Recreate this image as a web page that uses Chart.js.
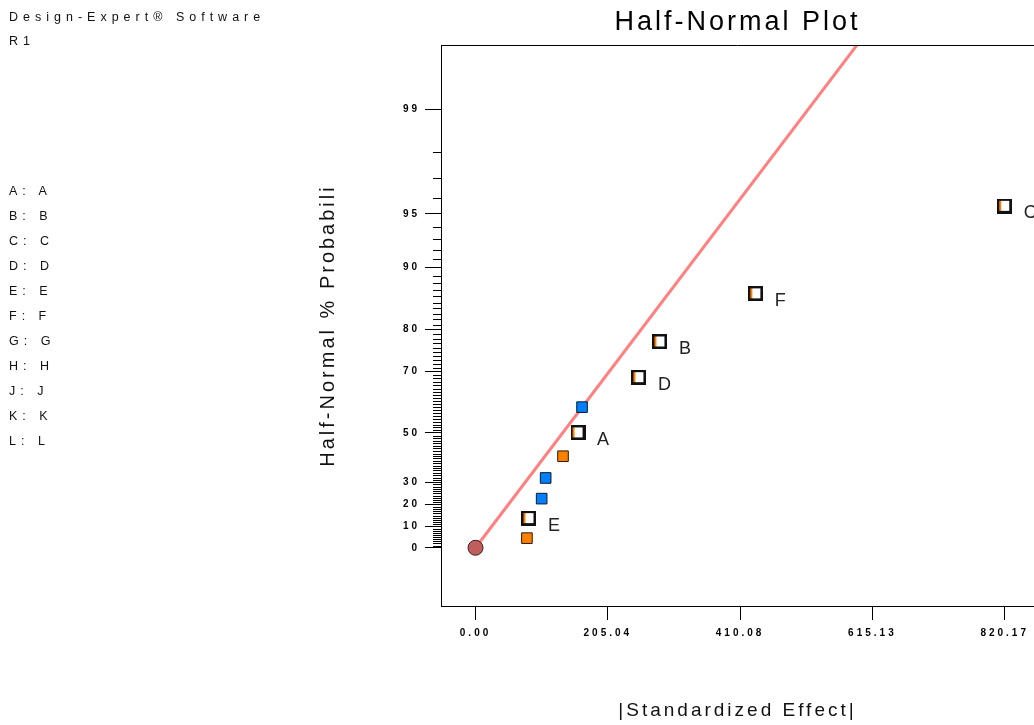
<!DOCTYPE html>
<html>
<head>
<meta charset="utf-8">
<title>Half-Normal Plot</title>
<script src="https://cdn.jsdelivr.net/npm/chart.js@4.4.1/dist/chart.umd.min.js"></script>
<style>
    html, body { margin: 0; padding: 0; background: #fff; overflow: hidden; }
    #wrap { position: relative; width: 1034px; height: 725px; }
    #plot { position: absolute; left: 0; top: 0; }
    .note {
        position: absolute;
        left: 9px;
        font-family: 'Liberation Sans', Arial, sans-serif;
        font-size: 12.5px;
        color: #111;
        letter-spacing: 5px;
        white-space: pre;
    }
</style>
</head>
<body>
<div id="wrap">
    <canvas id="plot" width="1034" height="725"></canvas>
    <div class="note" style="top: 5px; line-height: 24px;">Design-Expert® Software<br>R1</div>
    <div class="note" id="factors" style="top: 179px; line-height: 25px;"></div>
</div>
<script>
// factor codes and their names
var factorCodes = ['A', 'B', 'C', 'D', 'E', 'F', 'G', 'H', 'J', 'K', 'L'];
var factorNames = ['A', 'B', 'C', 'D', 'E', 'F', 'G', 'H', 'J', 'K', 'L'];

// axis ticks
var xTickValues = [0, 205.04, 410.08, 615.13, 820.17];
var yTickPercents = [0, 10, 20, 30, 50, 70, 80, 90, 95, 99];

// effects left out of the model (orange = positive, blue = negative)
var positiveEffects = [79.7, 135.6];
var positivePercents = [4.5, 40.9];
var negativeEffects = [102.5, 108.7, 165.1];
var negativePercents = [22.7, 31.8, 59.1];

// terms picked for the model
var termNames = ['E', 'A', 'D', 'B', 'F', 'C'];
var termEffects = [82.8, 158.9, 253.2, 285.8, 434.5, 820.17];
var termPercents = [13.6, 50.0, 68.2, 77.3, 86.4, 95.5];

// reference line from the origin
var lineEffects = [0, 600];
var linePercents = [0, 99.726];

document.getElementById('factors').innerHTML = factorCodes
    .map((code, i) => code + ': ' + factorNames[i])
    .join('<br>');

// inverse of the standard normal cdf (Acklam)
function probit(p) {
    var a = [-3.969683028665376e+01, 2.209460984245205e+02, -2.759285104469687e+02, 1.383577518672690e+02, -3.066479806614716e+01, 2.506628277459239e+00];
    var b = [-5.447609879822406e+01, 1.615858368580409e+02, -1.556989798598866e+02, 6.680131188771972e+01, -1.328068155288572e+01];
    var c = [-7.784894002430293e-03, -3.223964580411365e-01, -2.400758277161838e+00, -2.549732539343734e+00, 4.374664141464968e+00, 2.938163982698783e+00];
    var d = [7.784695709041462e-03, 3.224671290700398e-01, 2.445134137142996e+00, 3.754408661907416e+00];
    var lo = 0.02425;
    var q, r;
    if (p < lo) {
        q = Math.sqrt(-2 * Math.log(p));
        return (((((c[0] * q + c[1]) * q + c[2]) * q + c[3]) * q + c[4]) * q + c[5]) / ((((d[0] * q + d[1]) * q + d[2]) * q + d[3]) * q + 1);
    }
    if (p > 1 - lo) {
        q = Math.sqrt(-2 * Math.log(1 - p));
        return -(((((c[0] * q + c[1]) * q + c[2]) * q + c[3]) * q + c[4]) * q + c[5]) / ((((d[0] * q + d[1]) * q + d[2]) * q + d[3]) * q + 1);
    }
    q = p - 0.5;
    r = q * q;
    return (((((a[0] * r + a[1]) * r + a[2]) * r + a[3]) * r + a[4]) * r + a[5]) * q / (((((b[0] * r + b[1]) * r + b[2]) * r + b[3]) * r + b[4]) * r + 1);
}

// half-normal % probability -> position on the linear y scale
function halfNormal(pct) {
    return probit(0.5 + pct / 200);
}

function toPoints(xs, ps) {
    return xs.map((x, i) => ({ x: x, y: halfNormal(ps[i]) }));
}

// open square with an orange strip for model terms
function termMarker(fill) {
    var c = document.createElement('canvas');
    c.width = 15;
    c.height = 15;
    var g = c.getContext('2d');
    g.fillStyle = '#111';
    g.fillRect(0, 0, 15, 15);
    g.fillStyle = '#fff';
    g.fillRect(2, 2, 10, 10);
    g.fillStyle = fill;
    g.fillRect(2, 2, 2, 10);
    return c;
}

var fontFamily = "'Liberation Sans', Arial, sans-serif";

// Design-Expert style spaced lettering
var spacedText = {
    id: 'spacedText',
    beforeDraw: (chart) => { chart.ctx.letterSpacing = '3px'; },
    afterDraw: (chart) => { chart.ctx.letterSpacing = '0px'; }
};

// top edge of the frame and the 1% minor ticks on the probability axis
var frameTicks = {
    id: 'frameTicks',
    afterDraw: (chart) => {
        var ctx = chart.ctx;
        var area = chart.chartArea;
        var y = chart.scales.y;
        ctx.save();
        ctx.strokeStyle = '#000';
        ctx.lineWidth = 1;
        ctx.beginPath();
        ctx.moveTo(area.left, Math.round(area.top) + 0.5);
        ctx.lineTo(area.right, Math.round(area.top) + 0.5);
        for (var p = 1; p < 100; p++) {
            if (yTickPercents.indexOf(p) >= 0) continue;
            var py = Math.round(y.getPixelForValue(halfNormal(p))) + 0.5;
            ctx.moveTo(area.left - 8, py);
            ctx.lineTo(area.left, py);
        }
        ctx.stroke();
        ctx.restore();
    }
};

// letters next to the model terms
var termLabels = {
    id: 'termLabels',
    afterDatasetsDraw: (chart) => {
        var ctx = chart.ctx;
        var meta = chart.getDatasetMeta(3);
        ctx.save();
        ctx.font = '18px ' + fontFamily;
        ctx.fillStyle = '#222';
        ctx.textAlign = 'left';
        ctx.textBaseline = 'middle';
        meta.data.forEach((pt, i) => {
            ctx.fillText(termNames[i], pt.x + 19, pt.y + 7);
        });
        ctx.restore();
    }
};

var ctx = document.getElementById('plot').getContext('2d');
var halfNormalChart = new Chart(ctx, {
    type: 'scatter',
    data: {
        datasets: [
            {
                label: 'Line',
                data: toPoints(lineEffects, linePercents),
                showLine: true,
                borderColor: '#ff8080',
                borderWidth: 3,
                pointRadius: 0,
                order: 5
            },
            {
                label: 'Positive',
                data: toPoints(positiveEffects, positivePercents),
                pointStyle: 'rect',
                pointRadius: 7.5,
                backgroundColor: '#ff8000',
                borderColor: '#2a1a0a',
                borderWidth: 1,
                order: 1
            },
            {
                label: 'Negative',
                data: toPoints(negativeEffects, negativePercents),
                pointStyle: 'rect',
                pointRadius: 7.5,
                backgroundColor: '#0080ff',
                borderColor: '#0a1a2a',
                borderWidth: 1,
                order: 1
            },
            {
                label: 'Terms',
                data: toPoints(termEffects, termPercents),
                pointStyle: termMarker('#ff8000'),
                pointRadius: 7.5,
                order: 0
            },
            {
                label: 'Origin',
                data: [{ x: 0, y: halfNormal(0) }],
                pointStyle: 'circle',
                pointRadius: 7.5,
                backgroundColor: '#c05e5e',
                borderColor: '#3a1c1c',
                borderWidth: 1,
                order: 0
            }
        ]
    },
    options: {
        responsive: false,
        animation: false,
        events: [],
        layout: { padding: 0, autoPadding: false },
        plugins: {
            legend: { display: false },
            tooltip: { enabled: false },
            title: {
                display: true,
                text: 'Half-Normal Plot',
                color: '#000',
                fullSize: false,
                font: { family: fontFamily, size: 27, weight: 'normal' },
                padding: { top: 6, bottom: 6.6 }
            }
        },
        scales: {
            x: {
                type: 'linear',
                position: 'bottom',
                min: -53.5,
                max: 865.6,
                bounds: 'data',
                afterBuildTicks: (scale) => {
                    scale.ticks = xTickValues.map((v) => ({ value: v }));
                },
                afterFit: (scale) => {
                    scale.height = 119;
                    scale.paddingLeft = 0;
                    scale.paddingRight = 0;
                },
                grid: { drawOnChartArea: false, tickLength: 14, tickColor: '#000' },
                border: { color: '#000' },
                ticks: {
                    color: '#000',
                    padding: 7,
                    maxRotation: 0,
                    autoSkip: false,
                    font: { family: fontFamily, size: 10, weight: 'bold' },
                    callback: (value) => value.toFixed(2)
                },
                title: {
                    display: true,
                    text: '|Standardized Effect|',
                    color: '#111',
                    font: { family: fontFamily, size: 19 },
                    padding: { top: 0, bottom: 3 }
                }
            },
            y: {
                type: 'linear',
                position: 'left',
                min: -0.342,
                max: 2.952,
                bounds: 'data',
                afterBuildTicks: (scale) => {
                    scale.ticks = yTickPercents.map((p) => ({ value: halfNormal(p) }));
                },
                afterFit: (scale) => { scale.width = 441; },
                grid: { drawOnChartArea: false, tickLength: 16, tickColor: '#000' },
                border: { color: '#000' },
                ticks: {
                    color: '#000',
                    padding: 5,
                    autoSkip: false,
                    font: { family: fontFamily, size: 10, weight: 'bold' },
                    callback: (value, index) => yTickPercents[index]
                },
                title: {
                    display: true,
                    text: 'Half-Normal % Probabili',
                    color: '#111',
                    font: { family: fontFamily, size: 20 },
                    padding: { top: 316, bottom: 0 }
                }
            }
        }
    },
    plugins: [spacedText, frameTicks, termLabels]
});
</script>
</body>
</html>
